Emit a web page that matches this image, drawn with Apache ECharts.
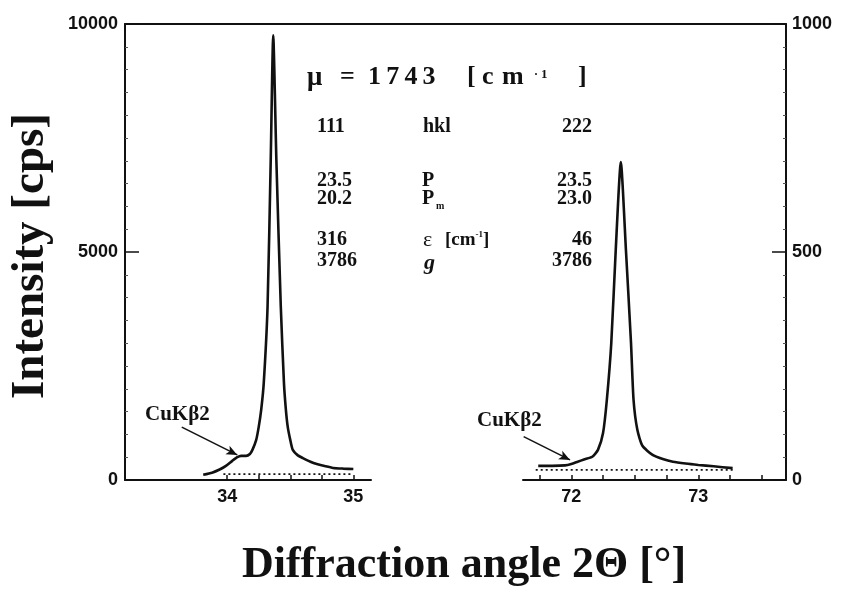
<!DOCTYPE html>
<html>
<head>
<meta charset="utf-8">
<script src="https://cdn.jsdelivr.net/npm/echarts@6/dist/echarts.min.js"></script>
<style>
html,body{margin:0;padding:0;background:#fff;}
#c{width:841px;height:589px;}
</style>
</head>
<body>
<div id="c"></div>
<script>
// ---- data ----
// (111) reflection, left panel, left axis [cps]
const theta111 = [33.81, 33.88, 33.94, 33.99, 34.04, 34.08, 34.11, 34.15, 34.18, 34.20, 34.23, 34.25, 34.27, 34.29, 34.32, 34.345, 34.365, 34.39, 34.425, 34.45, 34.465, 34.48, 34.50, 34.52, 34.56, 34.60, 34.66, 34.71, 34.78, 34.84, 34.92, 35.00];
const counts111 = [115, 160, 230, 310, 420, 500, 530, 530, 570, 660, 880, 1165, 1550, 2130, 3800, 7000, 9750, 7000, 3800, 2130, 1550, 1165, 880, 660, 540, 480, 400, 350, 300, 265, 250, 240];
// (222) reflection, right panel, right axis [cps]
const theta222 = [71.74, 71.85, 71.95, 72.00, 72.05, 72.10, 72.165, 72.21, 72.25, 72.28, 72.315, 72.35, 72.39, 72.43, 72.47, 72.49, 72.52, 72.56, 72.64, 72.72, 72.80, 72.90, 73.00, 73.12, 73.27];
const counts222 = [31, 31, 32, 35, 40, 45, 51, 66, 103, 176, 301, 505, 697, 505, 301, 176, 110, 75, 55, 46, 40, 36, 33, 30, 26];
// dotted backgrounds
const base111Theta = [33.97, 35.00];
const base111Counts = [130, 130];
const base222Theta = [71.72, 73.27];
const base222Counts = [22, 22];
// CuKβ2 arrows (data coordinates: start, end)
const arrow111 = [[33.64, 1160], [34.08, 550]];
const arrow222 = [[71.625, 95], [71.99, 44]];
// axis ticks / labels
const xLabels111 = [34, 35];
const xTicks111 = [34, 34.25, 34.5, 34.75, 35];
const xLabels222 = [72, 73];
const xTicks222 = [71.75, 72, 72.25, 72.5, 72.75, 73, 73.25, 73.5];
const leftMax = 10000, leftStep = 5000;
const rightMax = 1000, rightStep = 500;

function zip(a, b) { return a.map((v, i) => [v, b[i]]); }

const SERIF = '"Liberation Serif","Times New Roman",serif';
const SANS = '"Liberation Sans",Arial,sans-serif';
const lineCol = '#111';
const plain = (v) => String(v);

function xAxisCfg(grid, min, max, ticks, labels) {
  return {
    type: 'value', gridIndex: grid, min: min, max: max,
    axisLine: { show: true, onZero: false, lineStyle: { color: lineCol, width: 2 } },
    axisTick: { show: true, inside: true, length: 5, customValues: ticks, lineStyle: { color: lineCol, width: 1.5 } },
    axisLabel: { show: true, customValues: labels, formatter: plain, color: '#111', fontFamily: SANS, fontWeight: 'bold', fontSize: 18, margin: 8 },
    splitLine: { show: false }
  };
}

function txt(x, y, s, size, extra) {
  return {
    type: 'text', x: x, y: y, silent: true,
    style: Object.assign({
      text: s, fill: '#111', fontFamily: SERIF, fontWeight: 'bold', fontSize: size,
      align: 'left', verticalAlign: 'middle'
    }, extra || {})
  };
}

const chart = echarts.init(document.getElementById('c'), null, { renderer: 'canvas' });

const arrowMark = (pts) => ({
  silent: true, animation: false,
  symbol: ['none', 'arrow'], symbolSize: [7, 11],
  label: { show: false },
  lineStyle: { color: lineCol, width: 1.5, type: 'solid' },
  data: [[{ coord: pts[0] }, { coord: pts[1] }]]
});

const option = {
  animation: false,
  backgroundColor: '#ffffff',
  grid: [
    { left: 125, top: 24, width: 246, height: 456 },
    { left: 523, top: 24, width: 263, height: 456 },
    { left: 125, top: 24, width: 661, height: 456 }
  ],
  xAxis: [
    xAxisCfg(0, 33.19, 35.14, xTicks111, xLabels111),
    xAxisCfg(1, 71.62, 73.69, xTicks222, xLabels222),
    { type: 'value', gridIndex: 2, position: 'top', min: 0, max: 1,
      axisLine: { show: true, onZero: false, lineStyle: { color: lineCol, width: 2 } },
      axisTick: { show: false }, axisLabel: { show: false }, splitLine: { show: false } }
  ],
  yAxis: [
    { type: 'value', gridIndex: 0, min: 0, max: leftMax, show: false },
    { type: 'value', gridIndex: 1, min: 0, max: rightMax, show: false },
    { type: 'value', gridIndex: 2, position: 'left', min: 0, max: leftMax, interval: leftStep,
      axisLine: { show: true, onZero: false, lineStyle: { color: lineCol, width: 2 } },
      axisTick: { show: true, inside: true, length: 14, lineStyle: { color: lineCol, width: 1.5 } },
      minorTick: { show: true, splitNumber: 10, length: 3, lineStyle: { color: '#555', width: 1 } },
      axisLabel: { formatter: plain, color: '#111', fontFamily: SANS, fontWeight: 'bold', fontSize: 18, margin: 7 },
      splitLine: { show: false } },
    { type: 'value', gridIndex: 2, position: 'right', min: 0, max: rightMax, interval: rightStep,
      axisLine: { show: true, onZero: false, lineStyle: { color: lineCol, width: 2 } },
      axisTick: { show: true, inside: true, length: 14, lineStyle: { color: lineCol, width: 1.5 } },
      minorTick: { show: true, splitNumber: 10, length: 3, lineStyle: { color: '#555', width: 1 } },
      axisLabel: { formatter: plain, color: '#111', fontFamily: SANS, fontWeight: 'bold', fontSize: 18, margin: 6 },
      splitLine: { show: false } }
  ],
  series: [
    { type: 'line', name: '111', xAxisIndex: 0, yAxisIndex: 0, data: zip(theta111, counts111),
      showSymbol: false, smooth: 0.2, clip: false,
      lineStyle: { color: lineCol, width: 2.6 }, markLine: arrowMark(arrow111) },
    { type: 'line', name: 'base111', xAxisIndex: 0, yAxisIndex: 0, data: zip(base111Theta, base111Counts),
      showSymbol: false, lineStyle: { color: lineCol, width: 1.8, type: [2, 3] } },
    { type: 'line', name: '222', xAxisIndex: 1, yAxisIndex: 1, data: zip(theta222, counts222),
      showSymbol: false, smooth: 0.2, clip: false,
      lineStyle: { color: lineCol, width: 2.6 }, markLine: arrowMark(arrow222) },
    { type: 'line', name: 'base222', xAxisIndex: 1, yAxisIndex: 1, data: zip(base222Theta, base222Counts),
      showSymbol: false, lineStyle: { color: lineCol, width: 1.8, type: [2, 3] } }
  ],
  graphic: [
    // axis titles
    { type: 'text', x: 31, y: 256, rotation: Math.PI / 2, silent: true,
      style: { text: 'Intensity [cps]', fill: '#111', fontFamily: SERIF, fontWeight: 'bold', fontSize: 47, align: 'center', verticalAlign: 'middle' } },
    txt(464, 566, 'Diffraction angle 2\u0398 [\u00b0]', 44, { align: 'center' }),
    // μ line
    txt(307, 78, '\u03bc', 27),
    txt(340, 77, '=', 26),
    txt(368, 77, '1\u20097\u20094\u20093', 26),
    txt(467, 77, '[', 26),
    txt(482, 77, 'c', 26),
    txt(502, 77, 'm', 26),
    txt(534, 75, '\u00b7', 12),
    txt(541, 75, '1', 13),
    txt(578, 77, ']', 26),
    // table
    txt(317, 127, '111', 20),
    txt(423, 127, 'hkl', 20),
    txt(592, 127, '222', 20, { align: 'right' }),
    txt(317, 181, '23.5', 20),
    txt(422, 181, 'P', 20),
    txt(592, 181, '23.5', 20, { align: 'right' }),
    txt(317, 199, '20.2', 20),
    txt(422, 199, 'P', 20),
    txt(436, 206, 'm', 10),
    txt(592, 199, '23.0', 20, { align: 'right' }),
    txt(317, 240, '316', 20),
    txt(423, 240, '\u03b5', 20, { fontWeight: 'normal', fontSize: 22 }),
    { type: 'text', x: 445, y: 240, silent: true,
      style: { text: '[cm{s|-1}]', fill: '#111', fontFamily: SERIF, fontWeight: 'bold', fontSize: 19,
        align: 'left', verticalAlign: 'middle',
        rich: { s: { fontSize: 9, fontWeight: 'bold', fontFamily: SERIF, verticalAlign: 'top', fill: '#111' } } } },
    txt(592, 240, '46', 20, { align: 'right' }),
    txt(317, 261, '3786', 20),
    txt(424, 263, 'g', 22, { fontStyle: 'italic' }),
    txt(592, 261, '3786', 20, { align: 'right' }),
    // CuKβ2 labels
    txt(145, 415, 'CuK\u03b22', 21),
    txt(477, 421, 'CuK\u03b22', 21)
  ]
};
chart.setOption(option);
</script>
</body>
</html>
